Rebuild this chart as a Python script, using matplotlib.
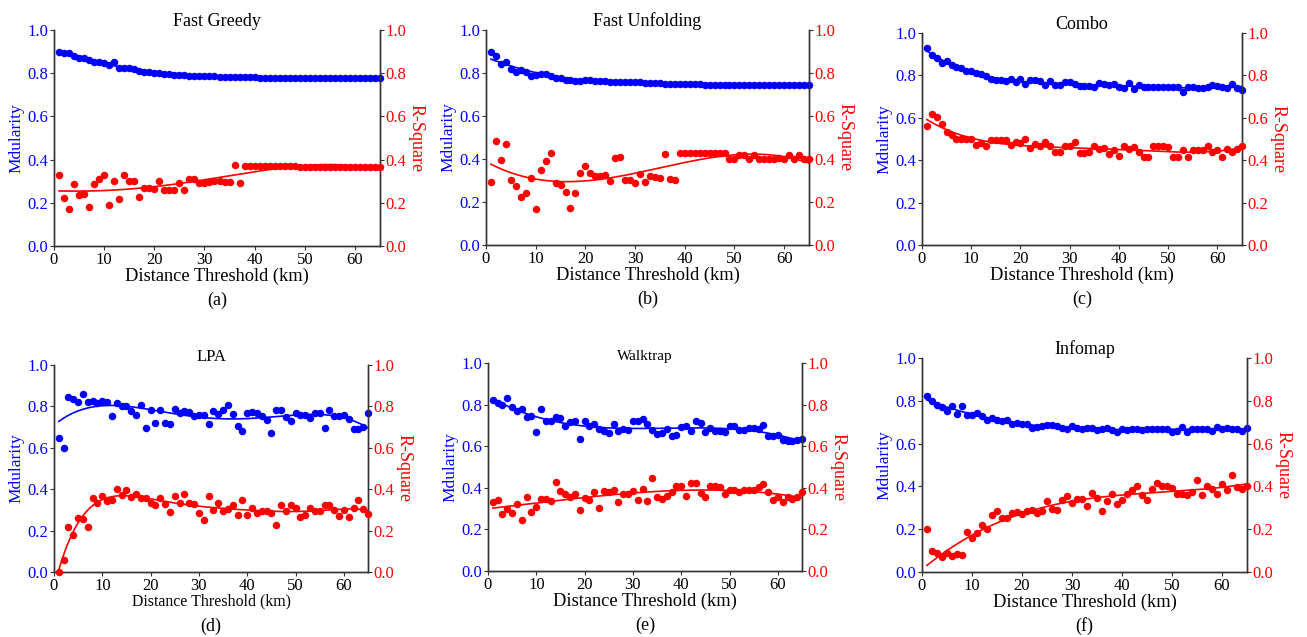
import matplotlib
matplotlib.use("Agg")
import matplotlib.pyplot as plt
import numpy as np

plt.rcParams['font.family'] = ['Liberation Serif', 'DejaVu Serif']

# distance thresholds (km)
x = np.arange(1, 66)

# Fast Greedy
fg_mod = [0.900, 0.893, 0.893, 0.880, 0.870, 0.870, 0.862, 0.853, 0.850, 0.845,
          0.838, 0.850, 0.826, 0.824, 0.825, 0.820, 0.810, 0.807, 0.805, 0.800,
          0.800, 0.797, 0.795, 0.793, 0.792, 0.790, 0.789, 0.788, 0.787, 0.787,
          0.786, 0.785, 0.784, 0.783, 0.783, 0.782, 0.782, 0.781, 0.781, 0.781,
          0.780, 0.780, 0.780, 0.780, 0.780, 0.780, 0.780, 0.780, 0.780, 0.780,
          0.779, 0.779, 0.779, 0.779, 0.779, 0.779, 0.779, 0.779, 0.779, 0.779,
          0.778, 0.778, 0.778, 0.778, 0.778]
fg_r2 = [0.328, 0.220, 0.172, 0.285, 0.235, 0.243, 0.180, 0.285, 0.310, 0.328,
         0.190, 0.300, 0.217, 0.330, 0.300, 0.300, 0.228, 0.270, 0.270, 0.266,
         0.300, 0.260, 0.260, 0.260, 0.293, 0.258, 0.310, 0.310, 0.290, 0.290,
         0.297, 0.300, 0.300, 0.297, 0.297, 0.374, 0.290, 0.371, 0.372, 0.372,
         0.371, 0.371, 0.370, 0.370, 0.370, 0.370, 0.369, 0.369, 0.368, 0.367,
         0.367, 0.367, 0.367, 0.367, 0.367, 0.367, 0.367, 0.367, 0.366, 0.366,
         0.366, 0.366, 0.366, 0.366, 0.366]

# Fast Unfolding
fu_mod = [0.896, 0.879, 0.842, 0.850, 0.819, 0.803, 0.814, 0.806, 0.786, 0.790,
          0.795, 0.795, 0.786, 0.778, 0.775, 0.769, 0.767, 0.764, 0.761, 0.767,
          0.766, 0.764, 0.762, 0.761, 0.760, 0.760, 0.759, 0.758, 0.758, 0.757,
          0.756, 0.755, 0.754, 0.753, 0.752, 0.751, 0.750, 0.750, 0.749, 0.748,
          0.748, 0.747, 0.747, 0.746, 0.746, 0.746, 0.745, 0.745, 0.745, 0.745,
          0.744, 0.744, 0.744, 0.744, 0.744, 0.744, 0.744, 0.744, 0.744, 0.744,
          0.743, 0.743, 0.743, 0.743, 0.743]
fu_r2 = [0.291, 0.484, 0.395, 0.470, 0.302, 0.274, 0.225, 0.240, 0.310, 0.167,
         0.349, 0.390, 0.426, 0.290, 0.279, 0.248, 0.170, 0.243, 0.336, 0.367,
         0.333, 0.321, 0.321, 0.326, 0.298, 0.406, 0.410, 0.302, 0.302, 0.287,
         0.330, 0.291, 0.322, 0.318, 0.310, 0.423, 0.307, 0.302, 0.426, 0.426,
         0.426, 0.426, 0.426, 0.426, 0.426, 0.426, 0.426, 0.426, 0.400, 0.400,
         0.418, 0.418, 0.400, 0.418, 0.400, 0.400, 0.400, 0.400, 0.403, 0.400,
         0.418, 0.400, 0.418, 0.400, 0.400]

# Combo
cb_mod = [0.929, 0.898, 0.882, 0.858, 0.866, 0.850, 0.838, 0.835, 0.822, 0.822,
          0.811, 0.808, 0.795, 0.784, 0.780, 0.776, 0.772, 0.783, 0.767, 0.783,
          0.761, 0.780, 0.776, 0.772, 0.756, 0.775, 0.753, 0.753, 0.769, 0.769,
          0.761, 0.751, 0.748, 0.748, 0.745, 0.764, 0.761, 0.756, 0.761, 0.743,
          0.740, 0.764, 0.737, 0.756, 0.745, 0.743, 0.743, 0.743, 0.743, 0.743,
          0.743, 0.743, 0.720, 0.743, 0.743, 0.740, 0.740, 0.743, 0.756, 0.748,
          0.743, 0.740, 0.761, 0.740, 0.729]
cb_r2 = [0.562, 0.617, 0.603, 0.570, 0.535, 0.520, 0.499, 0.499, 0.500, 0.499,
         0.472, 0.483, 0.469, 0.493, 0.493, 0.493, 0.493, 0.472, 0.488, 0.480,
         0.500, 0.457, 0.476, 0.469, 0.488, 0.468, 0.441, 0.441, 0.465, 0.465,
         0.488, 0.433, 0.433, 0.438, 0.468, 0.452, 0.457, 0.428, 0.449, 0.420,
         0.468, 0.452, 0.461, 0.441, 0.417, 0.417, 0.469, 0.465, 0.465, 0.460,
         0.417, 0.417, 0.449, 0.417, 0.449, 0.449, 0.449, 0.465, 0.438, 0.449,
         0.414, 0.452, 0.441, 0.454, 0.465]

# LPA
lpa_mod = [0.645, 0.597, 0.847, 0.835, 0.823, 0.860, 0.823, 0.826, 0.815, 0.827,
           0.823, 0.753, 0.818, 0.803, 0.802, 0.777, 0.758, 0.806, 0.698, 0.785,
           0.718, 0.782, 0.721, 0.713, 0.787, 0.766, 0.779, 0.771, 0.755, 0.758,
           0.758, 0.715, 0.779, 0.763, 0.782, 0.806, 0.763, 0.706, 0.682, 0.766,
           0.774, 0.766, 0.753, 0.734, 0.673, 0.785, 0.785, 0.750, 0.731, 0.769,
           0.758, 0.758, 0.742, 0.769, 0.769, 0.697, 0.785, 0.755, 0.755, 0.758,
           0.737, 0.690, 0.690, 0.700, 0.766]
lpa_r2 = [0.000, 0.060, 0.218, 0.177, 0.263, 0.258, 0.218, 0.358, 0.331, 0.366,
          0.342, 0.347, 0.403, 0.371, 0.395, 0.360, 0.379, 0.358, 0.358, 0.331,
          0.323, 0.358, 0.327, 0.290, 0.368, 0.331, 0.379, 0.331, 0.327, 0.285,
          0.253, 0.368, 0.298, 0.334, 0.295, 0.306, 0.323, 0.274, 0.347, 0.277,
          0.311, 0.285, 0.295, 0.294, 0.285, 0.226, 0.323, 0.295, 0.326, 0.311,
          0.266, 0.277, 0.310, 0.295, 0.295, 0.323, 0.323, 0.298, 0.271, 0.298,
          0.266, 0.310, 0.347, 0.306, 0.282]

# Walktrap
wt_mod = [0.820, 0.810, 0.799, 0.831, 0.788, 0.767, 0.778, 0.738, 0.743, 0.666,
          0.780, 0.719, 0.723, 0.740, 0.735, 0.699, 0.715, 0.723, 0.633, 0.723,
          0.695, 0.707, 0.682, 0.675, 0.662, 0.707, 0.675, 0.682, 0.678, 0.723,
          0.719, 0.732, 0.706, 0.678, 0.659, 0.662, 0.682, 0.650, 0.654, 0.691,
          0.695, 0.675, 0.719, 0.711, 0.666, 0.686, 0.675, 0.674, 0.670, 0.695,
          0.695, 0.678, 0.678, 0.686, 0.686, 0.683, 0.703, 0.651, 0.651, 0.654,
          0.630, 0.627, 0.627, 0.630, 0.635]
wt_r2 = [0.333, 0.341, 0.273, 0.297, 0.277, 0.322, 0.244, 0.357, 0.285, 0.309,
         0.346, 0.344, 0.338, 0.426, 0.386, 0.368, 0.354, 0.368, 0.293, 0.349,
         0.341, 0.378, 0.304, 0.386, 0.378, 0.389, 0.333, 0.368, 0.368, 0.384,
         0.341, 0.392, 0.336, 0.449, 0.357, 0.346, 0.362, 0.381, 0.408, 0.408,
         0.360, 0.421, 0.421, 0.373, 0.354, 0.408, 0.408, 0.402, 0.368, 0.389,
         0.389, 0.378, 0.389, 0.389, 0.389, 0.402, 0.418, 0.381, 0.341, 0.357,
         0.330, 0.357, 0.344, 0.357, 0.381]

# Infomap
im_mod = [0.821, 0.799, 0.779, 0.771, 0.751, 0.774, 0.737, 0.774, 0.735, 0.735,
          0.743, 0.729, 0.709, 0.721, 0.709, 0.706, 0.709, 0.693, 0.696, 0.690,
          0.690, 0.674, 0.678, 0.682, 0.688, 0.685, 0.682, 0.673, 0.667, 0.681,
          0.673, 0.667, 0.673, 0.674, 0.662, 0.670, 0.674, 0.662, 0.654, 0.670,
          0.665, 0.667, 0.667, 0.662, 0.667, 0.667, 0.670, 0.667, 0.670, 0.654,
          0.659, 0.678, 0.654, 0.667, 0.667, 0.670, 0.667, 0.657, 0.678, 0.670,
          0.674, 0.670, 0.667, 0.657, 0.673]
im_r2 = [0.202, 0.097, 0.090, 0.070, 0.089, 0.073, 0.083, 0.078, 0.187, 0.160,
         0.184, 0.218, 0.199, 0.265, 0.283, 0.252, 0.252, 0.277, 0.280, 0.273,
         0.283, 0.291, 0.276, 0.283, 0.330, 0.296, 0.288, 0.338, 0.355, 0.322,
         0.340, 0.340, 0.307, 0.371, 0.346, 0.285, 0.332, 0.363, 0.319, 0.335,
         0.363, 0.382, 0.400, 0.361, 0.338, 0.389, 0.417, 0.400, 0.400, 0.393,
         0.363, 0.363, 0.358, 0.374, 0.428, 0.358, 0.402, 0.389, 0.366, 0.413,
         0.382, 0.452, 0.397, 0.389, 0.402]

titles = ['Fast Greedy', 'Fast Unfolding', 'Combo', 'LPA', 'Walktrap', 'Infomap']
captions = ['(a)', '(b)', '(c)', '(d)', '(e)', '(f)']
mods = [fg_mod, fu_mod, cb_mod, lpa_mod, wt_mod, im_mod]
r2s = [fg_r2, fu_r2, cb_r2, lpa_r2, wt_r2, im_r2]

# layout (pixels of a 1307x637 canvas): left, top, right, bottom
boxes = [(54, 30, 380, 246), (486, 30, 809, 245), (922, 33, 1242, 245),
         (54, 365, 368, 572), (488, 363, 802, 571), (922, 358, 1247, 572)]
title_size = [13, 13, 13, 12, 11, 13]
xlabel_size = [13.2, 13.2, 13.2, 11.4, 13.2, 13.2]
# polynomial degree of the trend curves, and first point used in the fit
fit_deg = [(3, 4), (3, 3), (4, 4), (4, 6), (3, 3), (3, 3)]
fit_from = [(0, 0), (0, 0), (0, 0), (0, 0), (0, 0), (0, 1)]

W, H = 1307, 637
fig = plt.figure(figsize=(W / 100, H / 100), dpi=100)
spine_col = '#333333'
blue, red = '#0000ff', '#ff0000'

for i in range(6):
    l, t, r, b = boxes[i]
    ax = fig.add_axes([l / W, 1 - b / H, (r - l) / W, (b - t) / H])
    ax2 = ax.twinx()

    mod = np.array(mods[i])
    r2 = np.array(r2s[i])

    # fitted trend curves
    xs = np.linspace(1, 65, 300)
    s = fit_from[i][0]
    cm = np.polyfit(x[s:], mod[s:], fit_deg[i][0])
    ax.plot(xs, np.polyval(cm, xs), color=blue, lw=1.2, zorder=2)
    s = fit_from[i][1]
    cr = np.polyfit(x[s:], r2[s:], fit_deg[i][1])
    ax2.plot(xs, np.polyval(cr, xs), color=red, lw=1.2, zorder=2)

    ax.plot(x, mod, 'o', color=blue, ms=5.4, mew=0, clip_on=False, zorder=3)
    ax2.plot(x, r2, 'o', color=red, ms=5.4, mew=0, clip_on=False, zorder=3)

    for a in (ax, ax2):
        a.set_xlim(0, 65)
        a.set_ylim(0, 1)
        a.set_yticks(np.arange(0, 1.01, 0.2))
        a.set_yticklabels(['%.1f' % v for v in np.arange(0, 1.01, 0.2)])
        a.spines['top'].set_visible(False)
        for sp in ('left', 'right', 'bottom'):
            a.spines[sp].set_color(spine_col)
            a.spines[sp].set_linewidth(1.0)
    ax.set_xticks(range(0, 61, 10))
    ax.tick_params(axis='x', direction='out', length=3, color=spine_col,
                   labelsize=12, pad=1)
    ax.tick_params(axis='y', direction='out', length=3, color=spine_col,
                   labelsize=12, labelcolor=blue, pad=1)
    ax2.tick_params(axis='y', direction='out', length=3, color=spine_col,
                    labelsize=12, labelcolor=red, pad=1)

    ax.set_ylabel('Mdularity', color=blue, fontsize=12.5, labelpad=2)
    ax2.set_ylabel('R-Square', color=red, fontsize=13, rotation=270,
                   labelpad=13)
    ax.set_xlabel('Distance Threshold (km)', fontsize=xlabel_size[i],
                  labelpad=0)
    ax.set_title(titles[i], fontsize=title_size[i], pad=2)
    ax.text(0.5, -54 / (b - t), captions[i], transform=ax.transAxes,
            ha='center', va='center', fontsize=13)

plt.savefig('out.png', dpi=100)
